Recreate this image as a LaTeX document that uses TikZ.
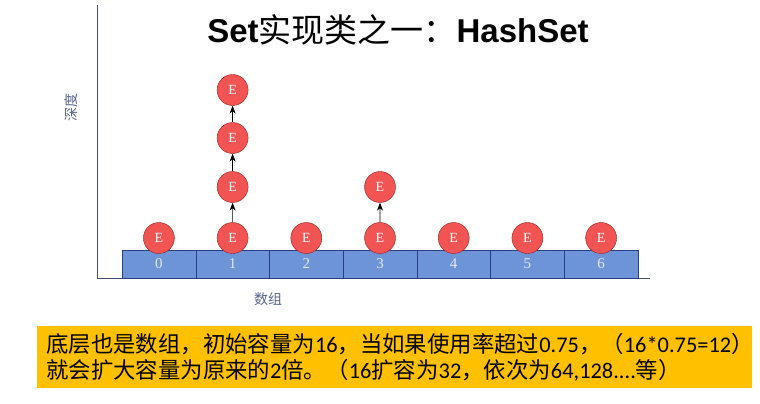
\documentclass[tikz,border=0pt]{standalone}
\usepackage{fontspec}
\setmainfont{Liberation Serif}
\newfontfamily\cjk{Noto Sans CJK SC}
\newfontfamily\titlefont{Liberation Sans}
\newfontfamily\numfont{Carlito}
\usetikzlibrary{arrows.meta}

\definecolor{cellblue}{RGB}{108,148,214}
\definecolor{cellline}{RGB}{40,62,130}
\definecolor{elemred}{RGB}{242,84,84}
\definecolor{elemline}{RGB}{150,30,30}
\definecolor{axisgray}{RGB}{70,78,110}
\definecolor{labelgray}{RGB}{90,100,140}
\definecolor{noteyellow}{RGB}{255,192,0}

\newcommand\latn[1]{{\numfont #1}}

\begin{document}
\begin{tikzpicture}[x=1pt, y=-1pt, every node/.style={inner sep=0pt},
	cell/.style={draw=cellline, fill=cellblue, minimum width=73.7pt, minimum height=28pt, text=white!90!blue, font=\fontsize{15}{15}\selectfont},
	elem/.style={circle, draw=elemline, fill=elemred, minimum size=31pt, text=white, font=\fontsize{14}{14}\selectfont},
	link/.style={-{Stealth[length=8pt,width=6pt]}, semithick},
	axis/.style={draw=axisgray, semithick}]
	\useasboundingbox (0,0) rectangle (760,404);
	% title
	\node[font=\fontsize{33}{33}\selectfont] (title) at (398,30) {{\titlefont\bfseries Set}{\cjk 实现类之一：}{\titlefont\bfseries HashSet}};
	% axes
	\coordinate (ytop) at (97,5);
	\coordinate (o) at (97,278);
	\coordinate (xend) at (650,278);
	\draw[axis] (ytop) -- (o) -- (xend);
	\node[rotate=90, text=labelgray, font=\cjk\fontsize{14}{14}\selectfont] (depth) at (71,107) {深度};
	% array cells with first element of each bucket
	\foreach \i in {0,...,6} {
		\node[cell] (c\i) at ({158.9+73.7*\i},264) {\raisebox{-1pt}{\i}};
		\node[elem] (e\i) at ({158.9+73.7*\i},238) {E};
	}
	\node[text=labelgray, font=\cjk\fontsize{14}{14}\selectfont] (arr) at (268,299) {数组};
	% chains
	\node[elem] (e1-1) at (232.6,187) {E};
	\node[elem] (e1-2) at (232.6,138) {E};
	\node[elem] (e1-3) at (232.6,90) {E};
	\node[elem] (e3-1) at (380,187) {E};
	\draw[link] (e1) -- (e1-1);
	\draw[link] (e1-1) -- (e1-2);
	\draw[link] (e1-2) -- (e1-3);
	\draw[link] (e3) -- (e3-1);
	% note
	\node[fill=noteyellow, anchor=north west, minimum width=715pt, minimum height=62pt, inner xsep=9pt, text width=697pt, align=left, font=\cjk\fontsize{22.4}{26}\selectfont] (note) at (37,326)
		{底层也是数组，初始容量为\latn{16}，当如果使用率超过\latn{0.75}，（\latn{16*0.75=12}）\\就会扩大容量为原来的\latn{2}倍。（\latn{16}扩容为\latn{32}，依次为\latn{64,128....}等）};
\end{tikzpicture}
\end{document}
